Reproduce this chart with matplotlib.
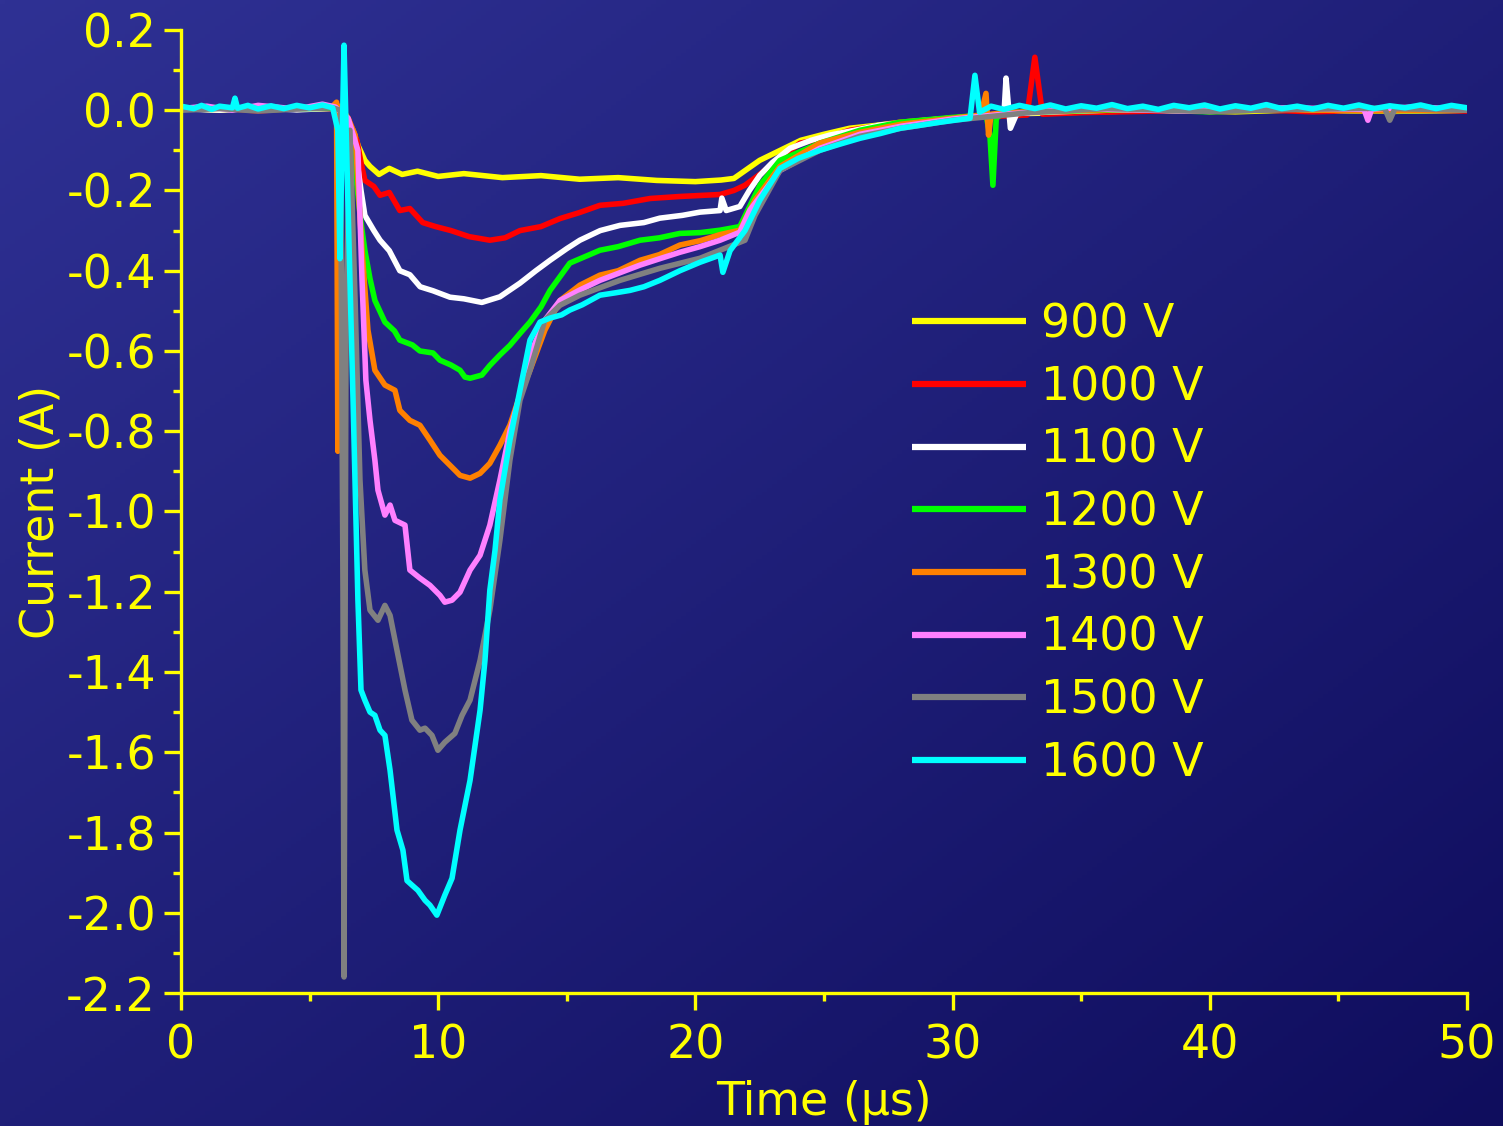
import matplotlib.pyplot as plt
import numpy as np

# Current transients recorded at each applied voltage
LABELS = ["900 V", "1000 V", "1100 V", "1200 V", "1300 V", "1400 V", "1500 V", "1600 V"]
COLORS = ["#ffff00", "#ff0000", "#ffffff", "#00ff00", "#ff8000", "#ff80ff", "#808080", "#00ffff"]

T_900 = [0.0, 1.5, 3.0, 4.5, 5.99, 6.3, 6.69, 6.9, 7.15, 7.35, 7.7, 8.1, 8.6, 9.2, 10.0, 11.0,
         12.5, 14.0, 15.5, 17.0, 18.5, 20.0, 21.0, 21.5, 22.5, 23.3, 24.1, 25.0, 26.0, 27.0,
         28.0, 29.9, 31.5, 33.0, 35.0, 38.0, 41.0, 44.0, 47.0, 50.0]
I_900 = [0.005, 0.0, 0.008, 0.002, 0.005, -0.01, -0.05, -0.09, -0.125, -0.14, -0.16, -0.145,
         -0.16, -0.152, -0.165, -0.158, -0.168, -0.163, -0.172, -0.168, -0.175, -0.178, -0.174,
         -0.17, -0.125, -0.1, -0.075, -0.06, -0.045, -0.038, -0.03, -0.02, -0.012, -0.008,
         -0.005, 0.0, -0.004, 0.002, -0.003, 0.0]

T_1000 = [0.0, 1.5, 3.0, 4.5, 6.0, 6.5, 6.84, 7.0, 7.15, 7.5, 7.74, 8.1, 8.51, 8.9, 9.4, 9.9,
          10.5, 11.2, 12.01, 12.6, 13.18, 14.0, 14.74, 15.5, 16.29, 17.2, 18.24, 19.4, 20.96,
          21.5, 21.93, 22.5, 22.9, 23.5, 24.07, 25.0, 26.01, 27.0, 27.96, 29.9, 32.9, 33.2,
          33.5, 35.0, 38.0, 41.0, 44.0, 47.0, 50.0]
I_1000 = [0.002, 0.006, -0.002, 0.005, 0.004, -0.02, -0.075, -0.13, -0.175, -0.19, -0.212,
          -0.205, -0.25, -0.245, -0.28, -0.29, -0.3, -0.315, -0.324, -0.318, -0.3, -0.29,
          -0.27, -0.255, -0.237, -0.232, -0.22, -0.215, -0.21, -0.2, -0.187, -0.16, -0.14,
          -0.11, -0.082, -0.07, -0.05, -0.04, -0.03, -0.02, -0.012, 0.132, -0.01, -0.006,
          -0.002, 0.003, -0.004, 0.001, -0.002]

T_1100 = [0.0, 1.5, 3.0, 4.5, 6.0, 6.5, 6.84, 7.0, 7.15, 7.5, 7.74, 8.1, 8.51, 8.9, 9.3, 9.8,
          10.46, 11.0, 11.7, 12.4, 13.18, 13.8, 14.35, 15.0, 15.51, 16.3, 17.07, 18.0, 18.62,
          19.5, 20.18, 20.96, 21.03, 21.2, 21.73, 22.1, 22.51, 23.0, 23.68, 24.5, 25.23, 26.2,
          27.18, 29.0, 31.5, 32.0, 32.08, 32.25, 32.5, 34.0, 37.0, 40.0, 43.0, 46.0, 50.0]
I_1100 = [0.004, 0.0, 0.006, 0.001, 0.005, -0.03, -0.125, -0.2, -0.262, -0.3, -0.324, -0.35,
          -0.4, -0.41, -0.44, -0.45, -0.466, -0.47, -0.479, -0.465, -0.431, -0.4, -0.374,
          -0.345, -0.324, -0.3, -0.287, -0.28, -0.269, -0.262, -0.254, -0.25, -0.219, -0.25,
          -0.24, -0.2, -0.162, -0.13, -0.095, -0.075, -0.062, -0.05, -0.037, -0.025, -0.012,
          -0.01, 0.08, -0.045, -0.008, -0.004, 0.002, -0.003, 0.003, -0.002, 0.0]

T_1200 = [0.0, 1.5, 3.0, 4.5, 6.0, 6.5, 6.84, 7.0, 7.15, 7.35, 7.54, 7.93, 8.3, 8.51, 9.0, 9.29,
          9.8, 10.07, 10.5, 10.85, 11.04, 11.24, 11.7, 12.01, 12.4, 12.79, 13.2, 13.57, 14.0,
          14.35, 15.12, 16.29, 17.0, 17.85, 18.6, 19.4, 20.2, 20.96, 21.73, 22.51, 23.29,
          24.84, 26.4, 27.96, 30.0, 31.3, 31.45, 31.57, 31.7, 32.0, 34.0, 37.0, 40.0, 43.0,
          46.0, 50.0]
I_1200 = [0.003, 0.007, 0.0, 0.004, 0.005, -0.04, -0.187, -0.28, -0.349, -0.42, -0.474,
          -0.528, -0.55, -0.573, -0.585, -0.6, -0.605, -0.623, -0.635, -0.648, -0.665, -0.668,
          -0.66, -0.636, -0.61, -0.586, -0.555, -0.528, -0.49, -0.449, -0.381, -0.349, -0.34,
          -0.324, -0.318, -0.307, -0.305, -0.299, -0.29, -0.187, -0.125, -0.082, -0.05,
          -0.03, -0.018, -0.012, -0.06, -0.187, -0.02, -0.006, -0.003, 0.002, -0.004, 0.003,
          -0.002, 0.0]

T_1300 = [0.0, 1.5, 3.0, 4.5, 5.9, 6.05, 6.1, 6.2, 6.5, 6.77, 7.04, 7.27, 7.54, 7.93, 8.32,
          8.51, 8.9, 9.29, 9.68, 10.07, 10.65, 10.85, 11.24, 11.63, 12.01, 12.4, 12.79, 13.18,
          13.57, 14.15, 14.74, 15.51, 16.29, 17.0, 17.85, 18.6, 19.4, 20.2, 20.96, 21.73,
          22.32, 23.29, 24.84, 26.4, 28.0, 30.0, 31.1, 31.3, 31.4, 31.5, 32.0, 34.0, 37.0,
          40.0, 43.0, 46.0, 50.0]
I_1300 = [0.002, 0.006, 0.001, 0.005, 0.01, 0.02, -0.85, 0.01, -0.02, -0.062, -0.349, -0.548,
          -0.648, -0.685, -0.698, -0.748, -0.773, -0.785, -0.822, -0.86, -0.897, -0.91, -0.917,
          -0.905, -0.88, -0.835, -0.785, -0.71, -0.648, -0.548, -0.474, -0.436, -0.411, -0.4,
          -0.374, -0.36, -0.336, -0.325, -0.31, -0.299, -0.224, -0.14, -0.082, -0.055, -0.035,
          -0.02, -0.012, 0.042, -0.062, -0.01, -0.006, -0.002, 0.003, -0.003, 0.002, -0.002,
          0.0]

T_1400 = [0.0, 1.0, 2.0, 3.0, 4.5, 5.5, 6.0, 6.5, 6.88, 7.04, 7.19, 7.35, 7.54, 7.66, 7.93,
          8.13, 8.32, 8.71, 8.9, 9.29, 9.68, 10.07, 10.26, 10.54, 10.85, 11.24, 11.63, 12.01,
          12.4, 12.79, 13.18, 13.57, 14.15, 14.74, 15.51, 16.29, 17.07, 17.85, 18.62, 19.4,
          20.18, 20.96, 21.73, 22.12, 23.29, 24.84, 26.4, 28.0, 30.0, 32.0, 35.0, 39.0, 43.0,
          46.0, 46.15, 46.3, 48.0, 50.0]
I_1400 = [0.004, 0.01, 0.0, 0.012, 0.003, 0.015, 0.008, -0.02, -0.1, -0.424, -0.673, -0.773,
          -0.872, -0.947, -1.009, -0.984, -1.022, -1.034, -1.146, -1.166, -1.184, -1.209,
          -1.226, -1.221, -1.201, -1.146, -1.109, -1.034, -0.922, -0.8, -0.71, -0.61, -0.523,
          -0.474, -0.448, -0.424, -0.405, -0.386, -0.37, -0.354, -0.34, -0.324, -0.304,
          -0.249, -0.15, -0.095, -0.06, -0.04, -0.022, -0.01, 0.004, -0.002, 0.006, 0.002,
          -0.025, 0.003, 0.008, 0.002]

T_1500 = [0.0, 1.5, 3.0, 4.5, 5.9, 6.2, 6.3, 6.34, 6.42, 6.57, 6.77, 6.96, 7.15, 7.35, 7.66,
          7.93, 8.13, 8.4, 8.71, 8.98, 9.29, 9.49, 9.76, 9.99, 10.26, 10.65, 10.93, 11.24,
          11.63, 12.01, 12.4, 12.79, 13.18, 13.57, 14.15, 14.74, 15.51, 17.07, 18.62, 20.18,
          20.96, 21.93, 22.32, 23.29, 24.84, 26.4, 28.0, 30.0, 33.0, 36.0, 40.0, 44.0, 46.8,
          47.0, 47.2, 50.0]
I_1500 = [0.0, 0.004, -0.002, 0.003, 0.006, 0.0, -1.2, -2.16, -0.5, -0.05, -0.474, -0.922,
          -1.146, -1.246, -1.271, -1.234, -1.259, -1.346, -1.445, -1.52, -1.545, -1.54, -1.558,
          -1.595, -1.575, -1.553, -1.508, -1.47, -1.371, -1.246, -1.072, -0.872, -0.723,
          -0.648, -0.523, -0.486, -0.461, -0.424, -0.394, -0.369, -0.349, -0.324, -0.262,
          -0.15, -0.1, -0.065, -0.045, -0.025, -0.006, 0.004, -0.003, 0.003, 0.005, -0.025,
          0.004, 0.0]

T_1600 = [0.0, 0.5, 0.8, 1.2, 1.5, 2.0, 2.1, 2.2, 2.6, 3.0, 3.5, 4.0, 4.5, 5.0, 5.5, 5.9, 6.1,
          6.18, 6.26, 6.34, 6.49, 6.69, 6.88, 7.0, 7.15, 7.35, 7.54, 7.74, 7.93, 8.13, 8.4,
          8.63, 8.79, 8.98, 9.21, 9.49, 9.68, 9.95, 10.26, 10.54, 10.85, 11.24, 11.63, 11.82,
          12.01, 12.21, 12.4, 12.79, 13.18, 13.57, 13.96, 14.35, 14.8, 15.12, 15.6, 16.29,
          16.9, 17.46, 18.0, 18.62, 19.4, 20.18, 20.96, 21.07, 21.35, 21.93, 22.51, 23.29,
          24.0, 24.84, 25.6, 26.4, 27.2, 27.96, 28.7, 29.51, 30.2, 30.68, 30.87, 31.05, 31.5,
          32.0, 32.6, 33.2, 33.8, 34.4, 35.0, 35.6, 36.2, 36.8, 37.4, 38.0, 38.6, 39.2, 39.8,
          40.4, 41.0, 41.6, 42.2, 42.8, 43.4, 44.0, 44.6, 45.2, 45.8, 46.4, 47.0, 47.6, 48.2,
          48.8, 49.4, 50.0]
I_1600 = [0.01, 0.004, 0.012, 0.002, 0.01, 0.006, 0.03, 0.005, 0.012, 0.003, 0.011, 0.004,
          0.012, 0.006, 0.013, 0.006, -0.05, -0.37, -0.1, 0.162, -0.224, -0.72, -1.22, -1.445,
          -1.47, -1.5, -1.508, -1.545, -1.558, -1.645, -1.794, -1.844, -1.92, -1.931, -1.944,
          -1.969, -1.981, -2.006, -1.956, -1.914, -1.794, -1.67, -1.495, -1.371, -1.196,
          -1.097, -0.972, -0.822, -0.698, -0.573, -0.528, -0.518, -0.51, -0.498, -0.485,
          -0.461, -0.455, -0.449, -0.44, -0.424, -0.4, -0.379, -0.361, -0.404, -0.35, -0.3,
          -0.224, -0.145, -0.12, -0.1, -0.085, -0.07, -0.058, -0.045, -0.038, -0.03, -0.024,
          -0.02, 0.087, -0.005, 0.01, 0.002, 0.012, 0.004, 0.013, 0.003, 0.011, 0.005, 0.014,
          0.004, 0.01, 0.002, 0.012, 0.006, 0.013, 0.003, 0.011, 0.005, 0.014, 0.004, 0.01,
          0.003, 0.012, 0.005, 0.013, 0.004, 0.011, 0.006, 0.013, 0.004, 0.012, 0.006]

SERIES_T = [T_900, T_1000, T_1100, T_1200, T_1300, T_1400, T_1500, T_1600]
SERIES_I = [I_900, I_1000, I_1100, I_1200, I_1300, I_1400, I_1500, I_1600]

X_TICKS = [0, 10, 20, 30, 40, 50]
Y_TICKS = [0.2, 0.0, -0.2, -0.4, -0.6, -0.8, -1.0, -1.2, -1.4, -1.6, -1.8, -2.0, -2.2]

YELLOW = "#ffff00"
FONT = 33

fig = plt.figure(figsize=(15.03, 11.26), dpi=100)

# diagonal blue gradient behind everything
bg = fig.add_axes([0, 0, 1, 1], zorder=0)
gx, gy = np.meshgrid(np.linspace(0, 1, 300), np.linspace(0, 1, 300))
w = (gx + gy) / 2.0
top_left = np.array([47, 49, 148]) / 255.0
bottom_right = np.array([15, 13, 93]) / 255.0
img = top_left[None, None, :] * (1 - w[..., None]) + bottom_right[None, None, :] * w[..., None]
bg.imshow(img, aspect="auto", extent=[0, 1, 0, 1], origin="upper")
bg.axis("off")

ax = fig.add_axes([0.1204, 0.1181, 0.8556, 0.8553], zorder=1)
ax.patch.set_alpha(0)

for t, cur, lab, col in zip(SERIES_T, SERIES_I, LABELS, COLORS):
    ax.plot(t, cur, color=col, lw=4.0, label=lab, solid_joinstyle="round",
            solid_capstyle="round")

ax.set_xlim(0, 50)
ax.set_ylim(-2.2, 0.2)
ax.set_xticks(X_TICKS)
ax.set_xticks([5, 15, 25, 35, 45], minor=True)
ax.set_yticks(Y_TICKS)
ax.set_yticklabels([f"{v:.1f}" for v in Y_TICKS])
ax.set_yticks(np.arange(-2.1, 0.2, 0.2), minor=True)

for side in ["top", "right"]:
    ax.spines[side].set_visible(False)
for side in ["left", "bottom"]:
    ax.spines[side].set_color(YELLOW)
    ax.spines[side].set_linewidth(2.4)

ax.tick_params(which="major", direction="out", length=12, width=2.4, color=YELLOW,
               labelcolor=YELLOW, labelsize=FONT, pad=6)
ax.tick_params(axis="x", which="major", pad=10)
ax.tick_params(which="minor", direction="out", length=6, width=2.4, color=YELLOW)

ax.set_xlabel("Time (μs)", color=YELLOW, fontsize=FONT, labelpad=8)
ax.set_ylabel("Current (A)", color=YELLOW, fontsize=FONT, labelpad=2)

leg = ax.legend(loc="upper left", bbox_to_anchor=(0.554, 0.736), frameon=False,
                fontsize=FONT, handlelength=2.5, handletextpad=0.33, labelspacing=0.385,
                borderaxespad=0)
for txt in leg.get_texts():
    txt.set_color(YELLOW)
for line in leg.get_lines():
    line.set_linewidth(4.5)
    line.set_solid_capstyle("butt")

fig.savefig("out.png", dpi=100)
